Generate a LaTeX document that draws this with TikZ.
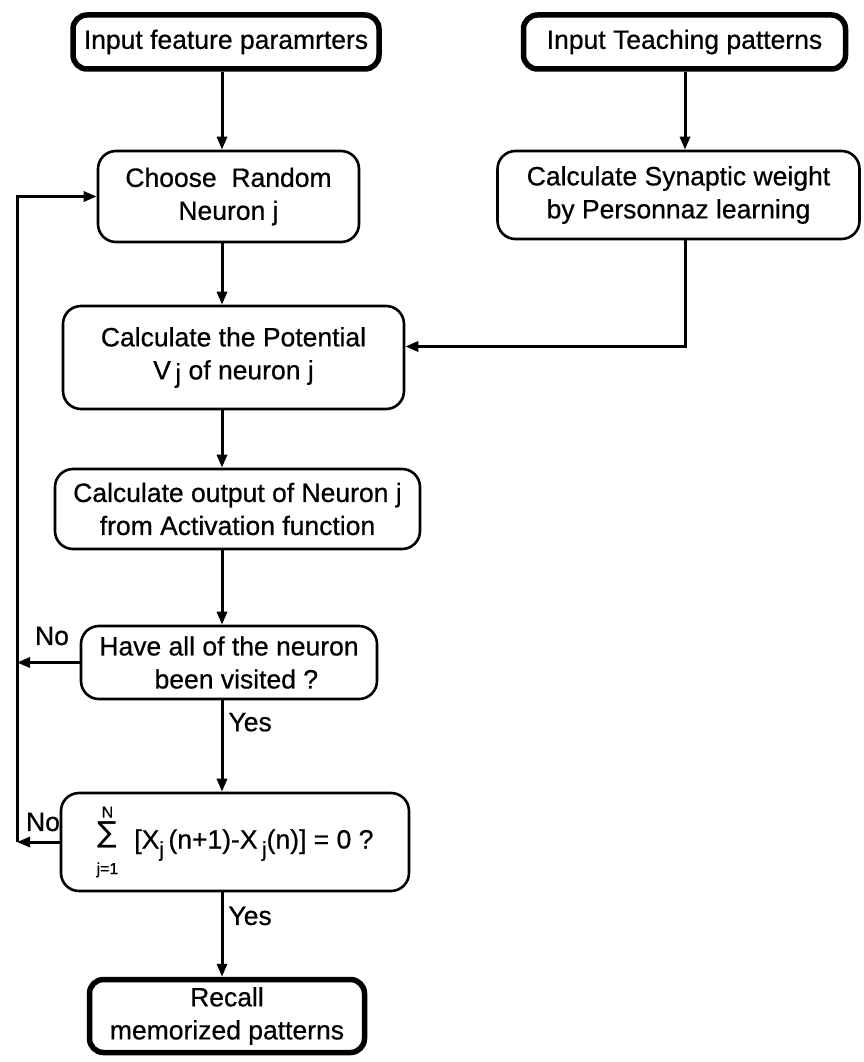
\documentclass[tikz,border=0pt]{standalone}
\usepackage{fontspec}
\setmainfont{Liberation Sans}[FakeBold=0.6]
\newfontfamily\sumfont{DejaVu Sans}
\usetikzlibrary{arrows.meta,calc}

\newcommand{\smallsub}[1]{\mbox{\fontsize{16}{16}\selectfont #1}}
\newcommand{\lowj}{\raisebox{-8pt}{\fontsize{21}{21}\selectfont j}}

\begin{document}
\begin{tikzpicture}[x=1pt,y=-1pt,
  every node/.style={font=\fontsize{26.5}{33}\selectfont},
  box/.style={draw, line width=2.6pt, rounded corners=18pt, align=center, inner sep=0pt},
  termbox/.style={box, line width=5.5pt, rounded corners=14pt},
  flow/.style={line width=3pt, -{Triangle[length=13pt,width=10pt]}},
  lbl/.style={inner sep=0pt}]
\useasboundingbox (0,0) rectangle (864,1062);

% process boxes
\node[termbox, minimum width=306, minimum height=54] (feat)  at (226,42)    {Input feature paramrters};
\node[termbox, minimum width=322, minimum height=54] (teach) at (684.5,42)  {Input Teaching patterns};
\node[box, minimum width=261, minimum height=91] (choose) at (228.5,196.5) {Choose~ Random\\Neuron j};
\node[box, minimum width=362, minimum height=88] (syn)    at (678.5,195)   {Calculate Synaptic weight\\by Personnaz learning};
\node[box, minimum width=341, minimum height=103] (pot)   at (233.5,357.5) {Calculate the Potential\\V\,\raisebox{-3pt}{j} of neuron j};
\node[box, minimum width=365, minimum height=80] (outp)   at (237.5,509)   {Calculate output of Neuron j\\from Activation function};
\node[box, minimum width=296, minimum height=73] (visit)  at (229,662.5)   {Have all of the neuron\\~~been visited ?};
\node[box, minimum width=348, minimum height=98] (conv)   at (235,842)
  {\raisebox{6pt}{$\mathop{\mbox{\sumfont\fontsize{29}{29}\selectfont ∑}}\limits_{\raisebox{-20pt}{\smallsub{j=1}}}^{\raisebox{2pt}{\smallsub{N}}}$}\hspace{16pt}[X\lowj\,(n+1)-X\,\lowj(n)] = 0 ?};
\node[termbox, minimum width=275, minimum height=73] (recall) at (227,1016) {Recall\\memorized patterns};

% guide coordinates for the connector columns
\coordinate (ax) at (222,0);
\coordinate (rx) at (685,0);
\coordinate (lx) at (17,0);

% main flow
\draw[flow] (feat.south -| ax) -- (choose.north -| ax);
\draw[flow] (teach.south -| rx) -- (syn.north -| rx);
\draw[flow] (syn.south -| rx) |- ([yshift=11pt]pot.east);
\draw[flow] (choose.south -| ax) -- (pot.north -| ax);
\draw[flow] (pot.south -| ax) -- (outp.north -| ax);
\draw[flow] (outp.south -| ax) -- (visit.north -| ax);
\draw[flow] (visit.south -| ax) -- node[lbl, pos=0.24, right=5pt] (yes1) {Yes} (conv.north -| ax);
\draw[flow] (conv.south -| ax) -- node[lbl, pos=0.28, right=5pt] (yes2) {Yes} (recall.north -| ax);

% feedback loop
\draw[flow] (visit.west) -- (visit.west -| lx);
\draw[flow] (conv.west) -- (conv.west -| lx);
\draw[flow] (conv.west -| lx) |- (choose.west);
\node[lbl] (no1) at (52,636) {No};
\node[lbl] (no2) at (43,822) {No};
\end{tikzpicture}
\end{document}
